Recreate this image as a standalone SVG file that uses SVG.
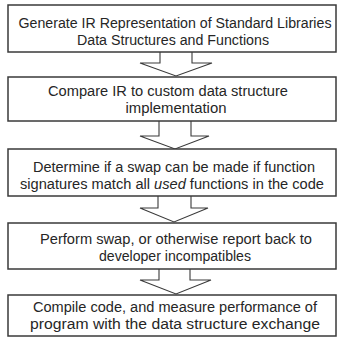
<svg xmlns="http://www.w3.org/2000/svg" width="339" height="341" viewBox="0 0 339 341">
  <style>
    .box { fill: #ffffff; stroke: #3a3a3a; stroke-width: 1.5; }
    .arrow { fill: #ffffff; stroke: #3a3a3a; stroke-width: 1.1; stroke-linejoin: miter; }
    .label { font-family: "Liberation Sans", Arial, sans-serif; font-size: 14px; fill: #262626; text-anchor: middle; }
  </style>
  <rect width="339" height="341" fill="#ffffff"/>

  <!-- block arrows between steps -->
  <g id="connectors">
    <path class="arrow" d="M160,52 V63 H140 L176,76 L212,63 H192 V52"/>
    <path class="arrow" d="M159,121 V136 H140 L175,149 L209,136 H191 V121"/>
    <path class="arrow" d="M158,196 V208 H140 L174,222 L208,208 H191 V196"/>
    <path class="arrow" d="M159,269 V280 H140 L176,294 L211,280 H190 V269"/>
  </g>

  <g id="step1">
    <rect class="box" x="8" y="5" width="328" height="47"/>
    <text class="label" x="175" y="28" textLength="313" lengthAdjust="spacingAndGlyphs">Generate IR Representation of Standard Libraries</text>
    <text class="label" x="173" y="45" textLength="192" lengthAdjust="spacingAndGlyphs">Data Structures and Functions</text>
  </g>

  <g id="step2">
    <rect class="box" x="8" y="77" width="328" height="44"/>
    <text class="label" x="168" y="96" textLength="240" lengthAdjust="spacingAndGlyphs">Compare IR to custom data structure</text>
    <text class="label" x="176" y="113" textLength="101" lengthAdjust="spacingAndGlyphs">implementation</text>
  </g>

  <g id="step3">
    <rect class="box" x="8" y="149" width="328" height="47"/>
    <text class="label" x="174" y="172" textLength="282" lengthAdjust="spacingAndGlyphs">Determine if a swap can be made if function</text>
    <text class="label" x="172" y="189" textLength="304" lengthAdjust="spacingAndGlyphs">signatures match all <tspan font-style="italic">used</tspan> functions in the code</text>
  </g>

  <g id="step4">
    <rect class="box" x="8" y="223" width="328" height="46"/>
    <text class="label" x="176" y="244" textLength="272" lengthAdjust="spacingAndGlyphs">Perform swap, or otherwise report back to</text>
    <text class="label" x="175" y="261" textLength="152" lengthAdjust="spacingAndGlyphs">developer incompatibles</text>
  </g>

  <g id="step5">
    <rect class="box" x="8" y="295" width="328" height="41"/>
    <text class="label" x="175" y="312" textLength="284" lengthAdjust="spacingAndGlyphs">Compile code, and measure performance of</text>
    <text class="label" x="175" y="329" textLength="290" lengthAdjust="spacingAndGlyphs">program with the data structure exchange</text>
  </g>
</svg>
